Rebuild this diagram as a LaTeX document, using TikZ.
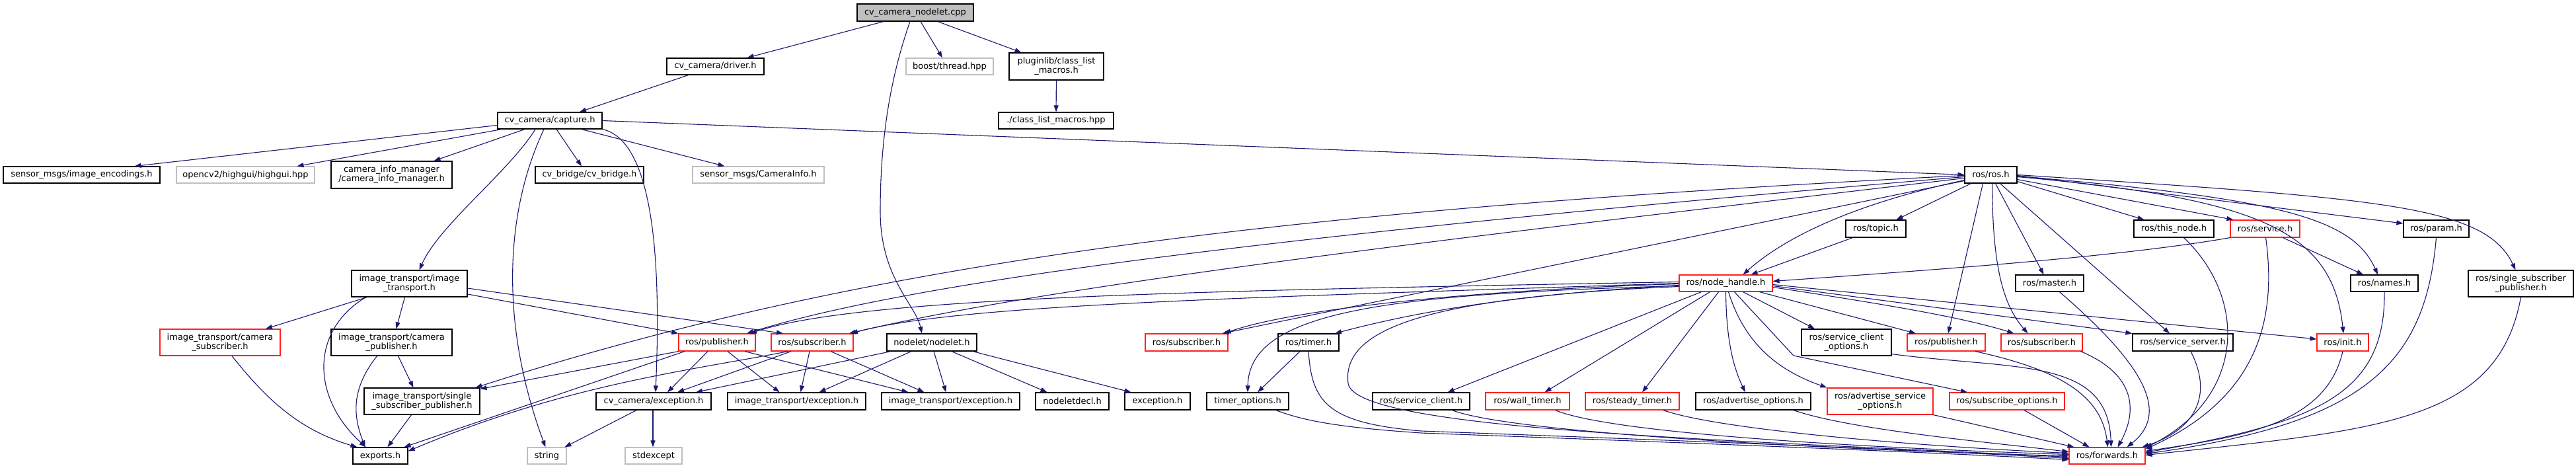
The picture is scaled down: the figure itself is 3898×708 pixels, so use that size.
\documentclass[tikz,border=0pt]{standalone}
\usepackage{fontspec}
\setmainfont{DejaVu Sans}
\usetikzlibrary{arrows.meta}
\definecolor{edgec}{HTML}{191970}
\definecolor{grayb}{HTML}{BFBFBF}
\definecolor{redb}{HTML}{FF2020}
\newcommand\mknode[6]{\node[#1,minimum width=#4pt,minimum height=#5pt] (#2) at (#3) {#6};}
\begin{document}
\begin{tikzpicture}[x=1pt,y=-1pt,
  box/.style={draw=black,line width=1.2pt,fill=white,inner sep=0pt,align=center,
    font=\fontsize{13pt}{14pt}\selectfont},
  redbox/.style={box,draw=redb},
  graybox/.style={box,draw=grayb},
  rootbox/.style={box,fill=grayb},
  e/.style={draw=edgec,line width=1.1pt,-{Triangle[length=10pt,width=7pt]}}]
\fill[white] (0,0) rectangle (3898,708);
\useasboundingbox (0,0) rectangle (3898,708);
% nodes
\mknode{rootbox}{root}{1385,19}{176}{26}{cv\_camera\_nodelet.cpp}
\mknode{box}{driver}{1082.5,100.5}{147}{25}{cv\_camera/driver.h}
\mknode{graybox}{boost}{1437,100.5}{132}{25}{boost/thread.hpp}
\mknode{box}{pluginlib}{1598.5,100.5}{143}{41}{pluginlib/class\_list\\\_macros.h}
\mknode{box}{clm}{1598,182.5}{174}{25}{./class\_list\_macros.hpp}
\mknode{box}{capture}{832,182.5}{158}{25}{cv\_camera/capture.h}
\mknode{box}{imgenc}{123.5,264.5}{237}{25}{sensor\_msgs/image\_encodings.h}
\mknode{graybox}{highgui}{371.5,264.5}{209}{25}{opencv2/highgui/highgui.hpp}
\mknode{box}{cim}{592.5,264.5}{183}{41}{camera\_info\_manager\\/camera\_info\_manager.h}
\mknode{box}{cvbridge}{892,264.5}{164}{25}{cv\_bridge/cv\_bridge.h}
\mknode{graybox}{caminfo}{1147.5,264.5}{199}{25}{sensor\_msgs/CameraInfo.h}
\mknode{box}{ros}{3012.5,264.5}{79}{25}{ros/ros.h}
\mknode{box}{topic}{2838.5,346}{91}{26}{ros/topic.h}
\mknode{box}{thisnode}{3289.5,346}{121}{26}{ros/this\_node.h}
\mknode{redbox}{service}{3427.5,346}{105}{26}{ros/service.h}
\mknode{box}{param}{3686.5,346}{99}{26}{ros/param.h}
\mknode{box}{it}{619.5,429}{175}{40}{image\_transport/image\\\_transport.h}
\mknode{redbox}{camsub}{333,518}{182}{40}{image\_transport/camera\\\_subscriber.h}
\mknode{box}{campub}{592.5,518}{183}{40}{image\_transport/camera\\\_publisher.h}
\mknode{box}{ssp}{638.5,607}{175}{40}{image\_transport/single\\\_subscriber\_publisher.h}
\mknode{box}{exports}{575.5,689.5}{83}{25}{exports.h}
\mknode{graybox}{string}{827.5,689.5}{59}{25}{string}
\mknode{graybox}{stdexcept}{989,689.5}{86}{25}{stdexcept}
\mknode{box}{cvexc}{989,607}{174}{26}{cv\_camera/exception.h}
\mknode{redbox}{pub1}{1085,518}{116}{26}{ros/publisher.h}
\mknode{redbox}{sub1}{1229,518}{124}{26}{ros/subscriber.h}
\mknode{box}{nodelet}{1410,518}{136}{26}{nodelet/nodelet.h}
\mknode{redbox}{sub2}{1795.5,518}{125}{26}{ros/subscriber.h}
\mknode{box}{timer}{1980,518}{92}{26}{ros/timer.h}
\mknode{box}{itexc1}{1205.5,607}{209}{26}{image\_transport/exception.h}
\mknode{box}{itexc2}{1438.5,607}{209}{26}{image\_transport/exception.h}
\mknode{box}{nodeletdecl}{1622.5,607}{111}{26}{nodeletdecl.h}
\mknode{box}{exception}{1751.5,607}{99}{26}{exception.h}
\mknode{box}{timeropt}{1888,607}{124}{26}{timer\_options.h}
\mknode{redbox}{nh}{2611.5,428.5}{141}{25}{ros/node\_handle.h}
\mknode{box}{sco}{2794,518}{136}{40}{ros/service\_client\\\_options.h}
\mknode{redbox}{pub2}{2945,518}{118}{26}{ros/publisher.h}
\mknode{box}{sc}{2150.5,607}{147}{26}{ros/service\_client.h}
\mknode{redbox}{wt}{2311.5,607}{127}{26}{ros/wall\_timer.h}
\mknode{redbox}{st}{2470,607}{142}{26}{ros/steady\_timer.h}
\mknode{box}{ao}{2653,607}{174}{26}{ros/advertise\_options.h}
\mknode{redbox}{aso}{2845,607}{160}{40}{ros/advertise\_service\\\_options.h}
\mknode{redbox}{so}{3037,607}{174}{26}{ros/subscribe\_options.h}
\mknode{box}{master}{3101.5,428.5}{103}{25}{ros/master.h}
\mknode{box}{names}{3608,428.5}{102}{25}{ros/names.h}
\mknode{box}{rssp}{3814.5,429}{159}{40}{ros/single\_subscriber\\\_publisher.h}
\mknode{redbox}{sub3}{3089.5,518}{123}{26}{ros/subscriber.h}
\mknode{box}{ss}{3303,518}{152}{26}{ros/service\_server.h}
\mknode{redbox}{init}{3545,518}{78}{26}{ros/init.h}
\mknode{redbox}{fwd}{3188.5,689.5}{115}{25}{ros/forwards.h}
% edges from root
\draw[e] ([xshift=-48pt]root.south) -- ([xshift=48pt]driver.north);
\draw[e] ([xshift=8pt]root.south) -- ([xshift=-11pt]boost.north);
\draw[e] ([xshift=34pt]root.south) -- ([xshift=-53pt]pluginlib.north);
\draw[e] ([xshift=-8pt]root.south) .. controls (1350,110) and (1332,200) .. (1332,320) .. controls (1332,420) and (1385,460) .. ([xshift=-15pt]nodelet.north);
\draw[e] (pluginlib) -- (clm);
\draw[e] ([xshift=-41pt]driver.south) -- ([xshift=45pt]capture.north);
% capture
\draw[e] ([yshift=-7pt]capture.west) -- ([xshift=80pt]imgenc.north);
\draw[e] ([xshift=-73pt]capture.south) -- ([xshift=78pt]highgui.north);
\draw[e] ([xshift=-38pt]capture.south) -- ([xshift=64pt]cim.north);
\draw[e] ([xshift=10pt]capture.south) -- ([xshift=-12pt]cvbridge.north);
\draw[e] ([xshift=48pt]capture.south) -- ([xshift=-51pt]caminfo.north);
\draw[e] (capture.east) -- (ros.west);
\draw[e] ([xshift=-22pt]capture.south) .. controls (770,260) and (665,340) .. ([xshift=15pt]it.north);
\draw[e] ([xshift=-9pt]capture.south) .. controls (760,330) and (760,500) .. ([xshift=-2pt]string.north);
\draw[e] (capture.south east) .. controls (1000,215) and (998,450) .. ([xshift=3pt]cvexc.north);
% ros
\draw[e] ([xshift=-30pt]ros.south) -- ([xshift=31pt]topic.north);
\draw[e] ([yshift=-8pt]ros.west) .. controls (2800,310) and (2700,360) .. ([xshift=26pt]nh.north);
\draw[e] ([yshift=-3pt]ros.west) .. controls (2000,350) and (1400,420) .. ([xshift=45pt]pub1.north);
\draw[e] ([yshift=-5pt]ros.west) .. controls (2200,360) and (1600,430) .. ([xshift=56pt]sub1.north);
\draw[e] ([yshift=-1pt]ros.west) .. controls (1900,320) and (1300,400) .. ([xshift=81pt]ssp.north);
\draw[e] ([yshift=-9pt]ros.west) -- ([xshift=54pt]sub2.north);
\draw[e] ([xshift=-12pt]ros.south) -- ([xshift=3pt]pub2.north);
\draw[e] ([xshift=2pt]ros.south) .. controls (3015,400) and (3030,460) .. ([xshift=-21pt]sub3.north);
\draw[e] ([xshift=7pt]ros.south) -- ([xshift=-9pt]master.north);
\draw[e] ([xshift=14pt]ros.south) -- ([xshift=-20pt]ss.north);
\draw[e] ([yshift=-10pt]ros.east) -- ([xshift=-45pt]thisnode.north);
\draw[e] ([yshift=-7pt]ros.east) -- ([xshift=-48pt]service.north);
\draw[e] ([yshift=-3pt]ros.east) .. controls (3420,300) and (3530,350) .. ([xshift=1pt]init.north);
\draw[e] ([yshift=-2pt]ros.east) .. controls (3450,300) and (3560,330) .. ([xshift=-10pt]names.north);
\draw[e] ([yshift=-1pt]ros.east) -- ([yshift=8pt]param.west);
\draw[e] (ros.east) .. controls (3600,300) and (3760,310) .. ([xshift=-8pt]rssp.north);
% second level right
\draw[e] ([xshift=-35pt]topic.south) -- ([xshift=38pt]nh.north);
\draw[e] (service.south west) .. controls (3200,390) and (2900,410) .. ([yshift=3pt]nh.east);
\draw[e] ([xshift=27pt]service.south) -- ([xshift=-32pt]names.north);
\draw[e] ([xshift=1pt]service.south) .. controls (3445,480) and (3420,600) .. ([yshift=10pt]fwd.east);
\draw[e] ([xshift=15pt]thisnode.south) .. controls (3400,450) and (3400,600) .. ([yshift=12pt]fwd.east);
\draw[e] (param.south) .. controls (3670,550) and (3580,640) .. ([yshift=3pt]fwd.east);
\draw[e] (names.south) .. controls (3610,600) and (3500,640) .. ([yshift=5pt]fwd.east);
\draw[e] (init.south) .. controls (3520,640) and (3400,660) .. ([yshift=7pt]fwd.east);
\draw[e] (rssp.south) .. controls (3780,640) and (3600,650) .. ([yshift=1pt]fwd.east);
\draw[e] ([xshift=15pt]master.south) .. controls (3230,540) and (3290,620) .. ([xshift=30pt]fwd.north);
\draw[e] ([xshift=12pt]ss.south) .. controls (3350,600) and (3320,650) .. ([xshift=-5pt]fwd.north east);
\draw[e] ([xshift=59pt]sub3.south) .. controls (3240,570) and (3230,630) .. ([xshift=16pt]fwd.north);
\draw[e] ([xshift=44pt]pub2.south) .. controls (3120,560) and (3180,600) .. ([xshift=1pt]fwd.north);
\draw[e] ([yshift=3pt]sco.south east) .. controls (3050,560) and (3190,540) .. ([xshift=6pt]fwd.north);
\draw[e] ([xshift=26pt]so.south) -- ([xshift=-27pt]fwd.north);
\draw[e] (aso.south east) -- ([xshift=-50pt]fwd.north);
\draw[e] ([xshift=61pt]ao.south) .. controls (2800,650) and (3000,668) .. ([yshift=6pt]fwd.west);
\draw[e] ([xshift=47pt]st.south) .. controls (2600,650) and (2900,675) .. ([yshift=4pt]fwd.west);
\draw[e] ([xshift=42pt]wt.south) .. controls (2450,660) and (2900,680) .. ([yshift=2pt]fwd.west);
\draw[e] ([xshift=47pt]sc.south) .. controls (2300,660) and (2900,685) .. (fwd.west);
\draw[e] ([yshift=-5pt]nh.west) .. controls (2150,450) and (2030,500) .. (2040,580) .. controls (2050,650) and (2600,665) .. ([yshift=-2pt]fwd.west);
\draw[e] (timer.south) .. controls (1985,610) and (2010,640) .. (2150,652) .. controls (2500,665) and (2900,680) .. ([yshift=-4pt]fwd.west);
\draw[e] ([xshift=43pt]timeropt.south) .. controls (1980,640) and (2050,648) .. (2150,655) .. controls (2500,668) and (2900,683) .. ([yshift=-6pt]fwd.west);
% node_handle
\draw[e] ([yshift=2pt]nh.west) .. controls (1800,440) and (1300,450) .. ([xshift=50pt]pub1.north);
\draw[e] (nh.west) .. controls (1900,450) and (1450,460) .. ([xshift=59pt]sub1.north);
\draw[e] ([yshift=-1pt]nh.west) .. controls (2200,440) and (1950,470) .. ([xshift=57pt]sub2.north);
\draw[e] ([yshift=-3pt]nh.west) .. controls (2300,445) and (2150,470) .. ([xshift=40pt]timer.north);
\draw[e] ([yshift=-4pt]nh.west) .. controls (2100,445) and (1890,470) .. (timeropt.north);
\draw[e] ([xshift=-37pt]nh.south) -- ([xshift=40pt]sc.north);
\draw[e] ([xshift=-24pt]nh.south) -- ([xshift=26pt]wt.north);
\draw[e] ([xshift=-11pt]nh.south) -- ([xshift=15pt]st.north);
\draw[e] (nh.south) .. controls (2612,520) and (2625,560) .. ([xshift=-12pt]ao.north);
\draw[e] ([xshift=4pt]nh.south) .. controls (2640,520) and (2690,560) .. (aso.north west);
\draw[e] ([xshift=13pt]nh.south) -- (2714,538) -- ([xshift=-60pt]so.north);
\draw[e] ([xshift=26pt]nh.south) -- ([xshift=-48pt]sco.north);
\draw[e] ([xshift=51pt]nh.south) -- ([xshift=-46pt]pub2.north);
\draw[e] ([yshift=-6pt]nh.east) .. controls (2850,460) and (2970,480) .. ([xshift=-42pt]sub3.north);
\draw[e] ([yshift=-4pt]nh.east) -- (ss.north west);
\draw[e] ([yshift=-2pt]nh.east) -- ([yshift=5pt]init.west);
% image_transport part
\draw[e] ([xshift=-64pt]it.south) -- ([xshift=69pt]camsub.north);
\draw[e] ([xshift=-7pt]it.south) -- ([xshift=7pt]campub.north);
\draw[e] ([xshift=-66pt]it.south) .. controls (470,500) and (470,600) .. ([xshift=-22pt]exports.north);
\draw[e] ([yshift=-7pt]it.east) -- ([xshift=-44pt]sub1.north);
\draw[e] ([yshift=-16pt]it.east) -- (pub1.north west);
\draw[e] ([xshift=18pt]camsub.south) .. controls (400,600) and (450,650) .. ([xshift=-35pt]exports.north);
\draw[e] ([xshift=-22pt]campub.south) .. controls (530,590) and (535,630) .. ([xshift=-23pt]exports.north);
\draw[e] ([xshift=10pt]campub.south) -- ([xshift=-13pt]ssp.north);
\draw[e] ([xshift=-16pt]ssp.south) -- ([xshift=11pt]exports.north);
\draw[e] (pub1.south west) -- ([yshift=-2pt]ssp.north east);
\draw[e] ([xshift=-49pt]pub1.south) -- ([xshift=36pt]exports.north);
\draw[e] ([xshift=-37pt]sub1.south) .. controls (1050,560) and (860,580) .. ([yshift=7pt]exports.east);
\draw[e] ([xshift=-14pt]pub1.south) -- ([xshift=21pt]cvexc.north);
\draw[e] ([xshift=-32pt]sub1.south) -- ([xshift=36pt]cvexc.north);
\draw[e] ([xshift=-62pt]nodelet.south) -- ([xshift=64pt]cvexc.north);
\draw[e] ([xshift=16pt]pub1.south) -- ([xshift=-26pt]itexc1.north);
\draw[e] ([xshift=42pt]pub1.south) -- ([xshift=-64pt]itexc2.north);
\draw[e] ([xshift=-4pt]sub1.south) -- ([xshift=6pt]itexc1.north);
\draw[e] ([xshift=28pt]sub1.south) -- ([xshift=-40pt]itexc2.north);
\draw[e] ([xshift=-31pt]nodelet.south) -- ([xshift=34pt]itexc1.north);
\draw[e] ([xshift=3pt]nodelet.south) -- ([xshift=-7pt]itexc2.north);
\draw[e] ([xshift=30pt]nodelet.south) -- ([xshift=-38pt]nodeletdecl.north);
\draw[e] ([xshift=62pt]nodelet.south) -- ([xshift=-40pt]exception.north);
\draw[e] ([xshift=-26pt]cvexc.south) -- ([xshift=27pt]string.north);
\draw[e] ([xshift=-1pt]cvexc.south) -- ([xshift=-1pt]stdexcept.north);
\draw[e] ([xshift=-13pt]timer.south) -- ([xshift=15pt]timeropt.north);
\end{tikzpicture}
\end{document}
